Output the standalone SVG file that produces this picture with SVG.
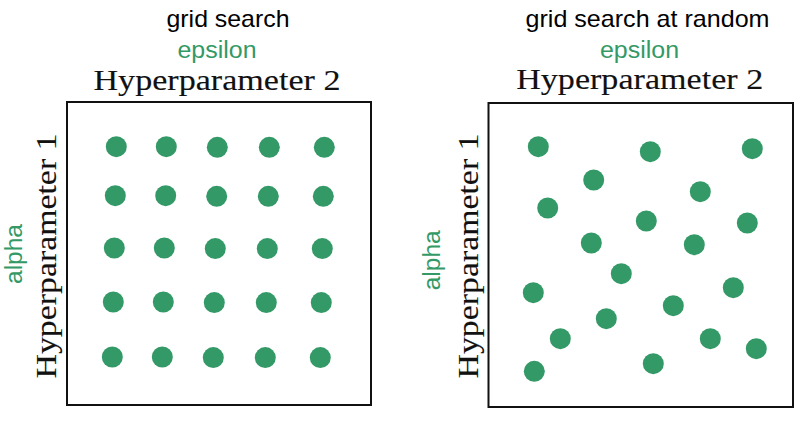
<svg xmlns="http://www.w3.org/2000/svg" width="810" height="424" viewBox="0 0 810 424">
<style>
.t{font-family:"Liberation Sans",Arial,sans-serif;font-size:24px;fill:#000;text-anchor:middle}
.g{font-family:"Liberation Sans",Arial,sans-serif;font-size:23px;fill:#339966;text-anchor:middle}
.s{font-family:"Liberation Serif","Times New Roman",serif;font-size:29px;fill:#111;text-anchor:middle;stroke:#111;stroke-width:0.12}
.box{fill:none;stroke:#111;stroke-width:2}
.d{fill:#339966}
</style>
<rect width="810" height="424" fill="#fff"/>
<g id="left-panel">
<text class="t" x="228" y="26.7" textLength="123" lengthAdjust="spacingAndGlyphs">grid search</text>
<text class="g" x="217" y="57.5" textLength="79" lengthAdjust="spacingAndGlyphs">epsilon</text>
<text class="s" x="217" y="89.5" textLength="247" lengthAdjust="spacingAndGlyphs">Hyperparameter 2</text>
<text class="g" transform="translate(21.5,254) rotate(-90)" textLength="60" lengthAdjust="spacingAndGlyphs">alpha</text>
<text class="s" transform="translate(56,256) rotate(-90)" textLength="245" lengthAdjust="spacingAndGlyphs">Hyperparameter 1</text>
<rect class="box" x="67" y="102" width="304" height="303"/>
<g class="d">
<circle cx="116.3" cy="146.7" r="10.5"/><circle cx="166.3" cy="146.7" r="10.5"/><circle cx="217.3" cy="147.3" r="10.5"/><circle cx="269.3" cy="147.3" r="10.5"/><circle cx="324.3" cy="147.3" r="10.5"/>
<circle cx="115.3" cy="195.7" r="10.5"/><circle cx="165.7" cy="195.7" r="10.5"/><circle cx="216.7" cy="196.3" r="10.5"/><circle cx="268.3" cy="196.3" r="10.5"/><circle cx="323.3" cy="196.3" r="10.5"/>
<circle cx="114.3" cy="248" r="10.5"/><circle cx="164.3" cy="248" r="10.5"/><circle cx="215.3" cy="248.6" r="10.5"/><circle cx="267.3" cy="248.6" r="10.5"/><circle cx="322.3" cy="248.6" r="10.5"/>
<circle cx="113.3" cy="302" r="10.5"/><circle cx="163.3" cy="302" r="10.5"/><circle cx="214.3" cy="302.6" r="10.5"/><circle cx="266.3" cy="302.6" r="10.5"/><circle cx="321.3" cy="302.6" r="10.5"/>
<circle cx="112.3" cy="357" r="10.5"/><circle cx="162.3" cy="357" r="10.5"/><circle cx="213.3" cy="357.6" r="10.5"/><circle cx="265.3" cy="357.6" r="10.5"/><circle cx="320.3" cy="357.6" r="10.5"/>
</g>
</g>
<g id="right-panel">
<text class="t" x="647.5" y="26.7" textLength="244" lengthAdjust="spacingAndGlyphs">grid search at random</text>
<text class="g" x="639.5" y="57.5" textLength="79" lengthAdjust="spacingAndGlyphs">epsilon</text>
<text class="s" x="639.7" y="89" textLength="247" lengthAdjust="spacingAndGlyphs">Hyperparameter 2</text>
<text class="g" transform="translate(440,260.3) rotate(-90)" textLength="60" lengthAdjust="spacingAndGlyphs">alpha</text>
<text class="s" transform="translate(477.5,256) rotate(-90)" textLength="245" lengthAdjust="spacingAndGlyphs">Hyperparameter 1</text>
<rect class="box" x="488.5" y="103" width="304.5" height="304"/>
<g class="d">
<circle cx="538.3" cy="146.7" r="10.5"/><circle cx="650.3" cy="151.7" r="10.5"/><circle cx="752.3" cy="148.7" r="10.5"/>
<circle cx="593.7" cy="180" r="10.5"/><circle cx="700.3" cy="191.7" r="10.5"/><circle cx="547.7" cy="208" r="10.5"/>
<circle cx="646.3" cy="221" r="10.5"/><circle cx="747.3" cy="223" r="10.5"/><circle cx="591.3" cy="243" r="10.5"/>
<circle cx="694.3" cy="244.7" r="10.5"/><circle cx="621.3" cy="273.7" r="10.5"/><circle cx="533.3" cy="292.7" r="10.5"/>
<circle cx="733.3" cy="287.7" r="10.5"/><circle cx="673.3" cy="305.7" r="10.5"/><circle cx="606.3" cy="318.7" r="10.5"/>
<circle cx="560.3" cy="338.7" r="10.5"/><circle cx="710.3" cy="338.7" r="10.5"/><circle cx="756.3" cy="348.7" r="10.5"/>
<circle cx="653.3" cy="363.7" r="10.5"/><circle cx="534.3" cy="371.3" r="10.5"/>
</g>
</g>
</svg>
